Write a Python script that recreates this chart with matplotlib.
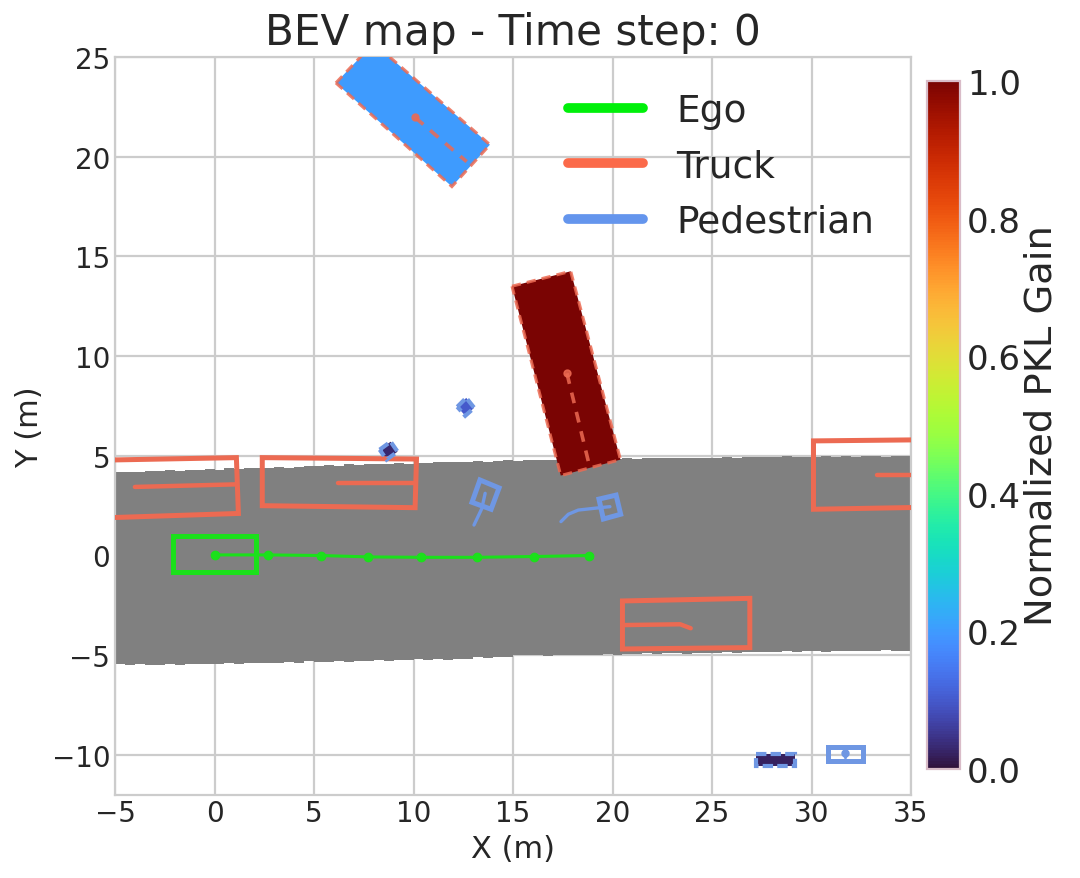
import numpy as np
import matplotlib
matplotlib.use('Agg')
import matplotlib.pyplot as plt
from matplotlib.patches import Polygon
from matplotlib.cm import ScalarMappable
from matplotlib.colors import Normalize

plt.style.use('seaborn-v0_8-whitegrid')
plt.rcParams['font.family'] = 'DejaVu Sans'

# Drivable area outline, one value every 0.5 m from x=-5 to x=35
road_x = np.arange(-5, 35.5, 0.5)
road_top = [4.20, 4.20, 4.20, 4.25, 4.22, 4.28, 4.25, 4.30, 4.28, 4.32,
            4.30, 4.36, 4.34, 4.38, 4.40, 4.38, 4.42, 4.40, 4.44, 4.50,
            4.47, 4.52, 4.50, 4.56, 4.53, 4.58, 4.56, 4.60, 4.62, 4.60,
            4.64, 4.62, 4.66, 4.68, 4.66, 4.70, 4.72, 4.70, 4.72, 4.76,
            4.74, 4.78, 4.78, 4.80, 4.78, 4.78, 4.80, 4.82, 4.80, 4.85,
            4.83, 4.87, 4.85, 4.88, 4.86, 4.90, 4.88, 4.88, 4.90, 4.88,
            4.90, 4.92, 4.90, 4.92, 4.94, 4.92, 4.93, 4.96, 4.93, 4.95,
            4.94, 4.96, 4.94, 4.97, 4.95, 4.96, 4.98, 4.95, 4.97, 4.96,
            4.96]
road_bottom = [-5.47, -5.50, -5.45, -5.48, -5.50, -5.46, -5.48, -5.45, -5.47, -5.44,
               -5.46, -5.42, -5.44, -5.40, -5.42, -5.38, -5.40, -5.36, -5.38, -5.32,
               -5.35, -5.33, -5.30, -5.33, -5.28, -5.30, -5.26, -5.28, -5.24, -5.27,
               -5.22, -5.25, -5.20, -5.23, -5.18, -5.20, -5.12, -5.15, -5.10, -5.08,
               -5.00, -5.02, -5.00, -5.03, -5.00, -4.98, -5.02, -4.98, -5.00, -4.96,
               -4.98, -4.95, -4.97, -4.92, -4.95, -4.92, -4.90, -4.93, -4.90, -4.88,
               -4.90, -4.86, -4.88, -4.85, -4.87, -4.84, -4.86, -4.82, -4.85, -4.82,
               -4.80, -4.83, -4.80, -4.78, -4.82, -4.78, -4.80, -4.76, -4.80, -4.78,
               -4.78]

# Ego
ego_box = [(-2.07, 0.95), (2.08, 0.95), (2.08, -0.86), (-2.07, -0.86)]
ego_x = [0.0, 2.67, 5.35, 7.73, 10.4, 13.18, 16.07, 18.83]
ego_y = [0.02, 0.02, -0.01, -0.08, -0.1, -0.1, -0.06, -0.01]

# Trucks drawn as outlines
truck_boxes = [
    [(-8.0, 4.73), (1.1, 4.9), (1.2, 2.1), (-8.0, 1.8)],
    [(2.4, 4.9), (10.15, 4.83), (10.08, 2.39), (2.4, 2.49)],
    [(20.5, -2.29), (26.9, -2.16), (26.9, -4.63), (20.5, -4.7)],
    [(30.1, 5.74), (38.0, 5.82), (38.0, 2.45), (30.1, 2.31)],
]
truck_paths = [
    [(-4.0, 3.43), (1.08, 3.56)],
    [(6.22, 3.65), (10.07, 3.65)],
    [(20.55, -3.5), (23.4, -3.46), (23.93, -3.66)],
    [(33.28, 4.03), (38.0, 4.03)],
]

# Trucks filled by gain
gain_boxes = [
    [(6.1, 23.7), (8.0, 25.7), (13.84, 20.6), (11.93, 18.5)],
    [(14.95, 13.5), (17.9, 14.25), (20.4, 4.8), (17.4, 4.0)],
]
gain_values = [0.2, 1.0]
gain_paths = [
    [(10.08, 21.97), (12.67, 19.75)],
    [(17.71, 9.13), (18.87, 4.37)],
]

# Pedestrians drawn as outlines
ped_boxes = [
    [(13.34, 3.78), (14.3, 3.38), (13.9, 2.31), (12.94, 2.66)],
    [(19.32, 2.82), (20.18, 3.02), (20.41, 2.06), (19.54, 1.82)],
    [(30.84, -9.6), (32.6, -9.6), (32.6, -10.32), (30.84, -10.32)],
]
ped_paths = [
    [(13.6, 3.11), (13.43, 2.34), (13.04, 1.52)],
    [(17.41, 1.69), (17.78, 2.06), (18.28, 2.27), (19.37, 2.39), (19.87, 2.44)],
    [(31.68, -9.93), (31.68, -10.1)],
]

# Pedestrians filled by gain
ped_gain_boxes = [
    [(8.3, 5.3), (8.85, 5.7), (9.2, 5.2), (8.65, 4.8)],
    [(12.2, 7.45), (12.65, 7.9), (13.05, 7.4), (12.6, 7.0)],
    [(27.2, -9.98), (29.17, -9.98), (29.17, -10.57), (27.2, -10.57)],
]
ped_gain_values = [0.03, 0.1, 0.02]

truck_color = '#ec6a52'
ped_color = '#6f97e3'
ego_color = '#1be01b'
cmap = plt.get_cmap('turbo')

fig = plt.figure(figsize=(10.8, 8.79), dpi=100)
ax = fig.add_axes([115 / 1080, 1 - 795.5 / 879, 796 / 1080, 737.5 / 879])

ax.fill_between(road_x, road_bottom, road_top, step='post', color='#808080', lw=0, zorder=1)

for box, val, path in zip(gain_boxes, gain_values, gain_paths):
    ax.add_patch(Polygon(box, closed=True, facecolor=cmap(val), edgecolor='none', zorder=3))
    ax.add_patch(Polygon(box, closed=True, fill=False, edgecolor=truck_color, lw=2.2,
                         ls=(0, (3, 2)), alpha=0.85, zorder=4))
    px, py = zip(*path)
    ax.plot(px, py, color=truck_color, lw=2.6, ls=(0, (3, 2.5)), alpha=0.85, zorder=4)
    ax.plot(px[0], py[0], 'o', color=truck_color, ms=5, alpha=0.85, zorder=4)

for box, val in zip(ped_gain_boxes, ped_gain_values):
    ax.add_patch(Polygon(box, closed=True, facecolor=cmap(val), edgecolor='none', zorder=3))
    ax.add_patch(Polygon(box, closed=True, fill=False, edgecolor=ped_color, lw=3,
                         ls=(0, (2.5, 1)), zorder=4))

for box, path in zip(truck_boxes, truck_paths):
    ax.add_patch(Polygon(box, closed=True, fill=False, edgecolor=truck_color, lw=3.6, zorder=3))
    px, py = zip(*path)
    ax.plot(px, py, color=truck_color, lw=3.2, zorder=3)

for box, path in zip(ped_boxes, ped_paths):
    ax.add_patch(Polygon(box, closed=True, fill=False, edgecolor=ped_color, lw=3.6, zorder=3))
    px, py = zip(*path)
    ax.plot(px, py, color=ped_color, lw=2.4, zorder=3)
ax.plot(ped_paths[2][0][0], ped_paths[2][0][1], 'o', color=ped_color, ms=5, zorder=3)

ax.add_patch(Polygon(ego_box, closed=True, fill=False, edgecolor=ego_color, lw=3.6, zorder=3))
ax.plot(ego_x, ego_y, '-o', color=ego_color, lw=2.2, ms=6, zorder=3)

# Legend proxies
ax.plot([], [], color='#00f00a', lw=7, solid_capstyle='round', label='Ego')
ax.plot([], [], color='#fb6a4a', lw=7, solid_capstyle='round', label='Truck')
ax.plot([], [], color='cornflowerblue', lw=7, solid_capstyle='round', label='Pedestrian')
ax.legend(loc='upper left', bbox_to_anchor=(0.5505, 0.971), fontsize=27, handlelength=2.0,
          handletextpad=0.88, labelspacing=0.51, frameon=False, borderaxespad=0)

ax.set_xlim(-5, 35)
ax.set_ylim(-12, 25)
ax.set_xticks(np.arange(-5, 40, 5))
ax.set_yticks(np.arange(-10, 30, 5))
ax.tick_params(labelsize=20)
ax.grid(True, color='#cccccc', lw=1.6)
for spine in ax.spines.values():
    spine.set_color('#cccccc')
    spine.set_linewidth(1.6)
ax.set_xlabel('X (m)', fontsize=22, labelpad=5)
ax.set_ylabel('Y (m)', fontsize=22, labelpad=5)
ax.set_title('BEV map - Time step: 0', fontsize=30.3, pad=9)

# Colorbar
cax = fig.add_axes([927 / 1080, 1 - 770 / 879, 33 / 1080, 688 / 879])
cb = fig.colorbar(ScalarMappable(Normalize(0, 1), cmap), cax=cax)
cb.set_ticks(np.arange(0, 1.2, 0.2))
cb.ax.tick_params(labelsize=24.5, length=0, pad=5)
cb.outline.set_edgecolor('#d9bcc8')
cb.outline.set_linewidth(1.6)
cb.set_label('Normalized PKL Gain', fontsize=27.7, labelpad=2)

fig.savefig('out.png', dpi=100)
